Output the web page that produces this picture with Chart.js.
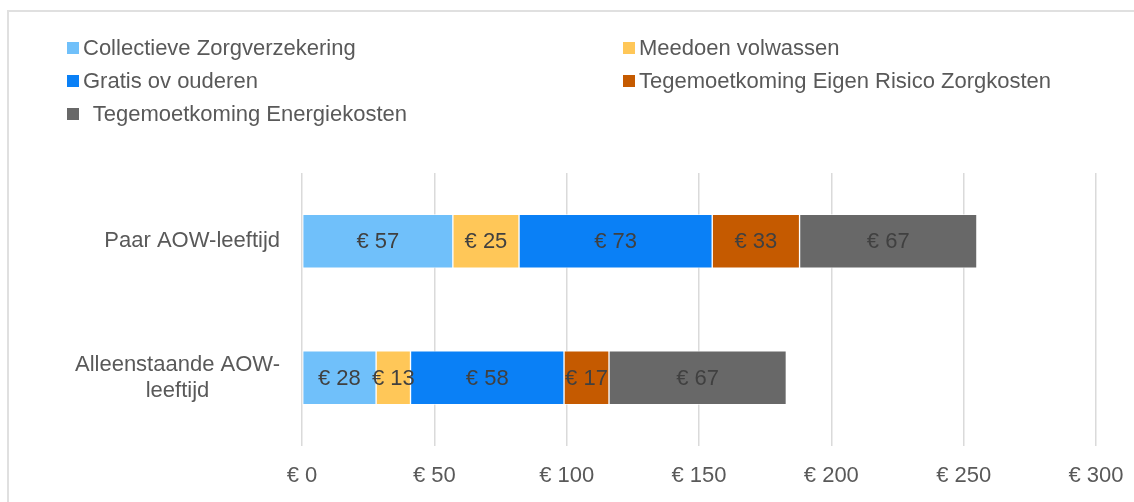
<!DOCTYPE html>
<html>
<head>
<meta charset="utf-8">
<script src="https://cdn.jsdelivr.net/npm/chart.js@4"></script>
<style>
  html, body { margin: 0; padding: 0; background: #fff; }
  #wrap { position: relative; width: 1134px; height: 502px; overflow: hidden; font-family: "Liberation Sans", Arial, sans-serif; }
  #frame { position: absolute; left: 7px; top: 10px; width: 1200px; height: 600px; border-top: 2px solid #e0e0e0; border-left: 2px solid #e0e0e0; }
  #legend { position: absolute; left: 0; top: 0; }
  .item { position: absolute; font-size: 22px; color: #595959; white-space: pre; line-height: 26px; }
  .item span.box { position: absolute; width: 12px; height: 12px; top: 7px; }
  canvas { position: absolute; left: 0; top: 0; }
</style>
</head>
<body>
<div id="wrap">
  <div id="frame"></div>
  <canvas id="chart" width="1134" height="502"></canvas>
  <div id="legend"></div>
</div>
<script>
const categories = ["Paar AOW-leeftijd", ["Alleenstaande AOW-", "leeftijd"]];
const seriesNames = [
  "Collectieve Zorgverzekering",
  "Meedoen volwassen",
  "Gratis ov ouderen",
  "Tegemoetkoming Eigen Risico Zorgkosten",
  " Tegemoetkoming Energiekosten"
];
const collectieve = [57, 28];
const meedoen = [25, 13];
const gratisOv = [73, 58];
const eigenRisico = [33, 17];
const energie = [67, 67];
const seriesColors = ["#70C0FA", "#FFC758", "#0A80F6", "#C55A00", "#686868"];
const xTicks = [0, 50, 100, 150, 200, 250, 300];

const FONT = '"Liberation Sans", Arial, sans-serif';

// legend in two columns, like the original ([text x, top, box offset])
const legendSpots = [[83, 35, -16], [639, 35, -16], [83, 68, -16], [639, 68, -16], [87, 101, -20]];
const legend = document.getElementById("legend");
seriesNames.forEach((name, i) => {
  const el = document.createElement("div");
  el.className = "item";
  el.style.left = legendSpots[i][0] + "px";
  el.style.top = legendSpots[i][1] + "px";
  const box = document.createElement("span");
  box.className = "box";
  box.style.left = legendSpots[i][2] + "px";
  box.style.background = seriesColors[i];
  el.appendChild(box);
  el.appendChild(document.createTextNode(name));
  legend.appendChild(el);
});

const values = [collectieve, meedoen, gratisOv, eigenRisico, energie];

const labelPlugin = {
  id: "labels",
  afterDraw(chart) {
    const ctx = chart.ctx;
    ctx.save();
    ctx.font = "22px " + FONT;
    ctx.textBaseline = "middle";

    // category labels: right edge at fixed x, lines centred within the label
    const yScale = chart.scales.y;
    const right = chart.chartArea.left - 22;
    categories.forEach((cat, i) => {
      const lines = Array.isArray(cat) ? cat : [cat];
      const w = Math.max(...lines.map((l) => ctx.measureText(l).width));
      const cx = right - w / 2;
      const cy = yScale.getPixelForValue(i);
      const lh = 26;
      ctx.fillStyle = "#595959";
      ctx.textAlign = "center";
      lines.forEach((l, k) => {
        ctx.fillText(l, cx, cy + (k - (lines.length - 1) / 2) * lh);
      });
    });

    // value labels in the middle of each segment
    ctx.fillStyle = "#404040";
    ctx.textAlign = "center";
    chart.data.datasets.forEach((ds, i) => {
      const meta = chart.getDatasetMeta(i);
      meta.data.forEach((bar, j) => {
        const p = bar.getProps(["x", "y", "base"], true);
        ctx.fillText("€ " + ds.data[j], (p.x + p.base) / 2, p.y + 1);
      });
    });
    ctx.restore();
  }
};

new Chart(document.getElementById("chart"), {
  type: "bar",
  data: {
    labels: categories,
    datasets: seriesNames.map((name, i) => ({
      label: name,
      data: values[i],
      backgroundColor: seriesColors[i],
      borderColor: "rgba(255,255,255,0.6)",
      borderWidth: 1,
      borderSkipped: false,
      barThickness: 54
    }))
  },
  options: {
    indexAxis: "y",
    responsive: false,
    animation: false,
    devicePixelRatio: 1,
    layout: { padding: { top: 173, right: 38, left: 0, bottom: 0 } },
    plugins: {
      legend: { display: false },
      tooltip: { enabled: false }
    },
    scales: {
      x: {
        stacked: true,
        min: 0,
        max: 300,
        afterBuildTicks(scale) {
          scale.ticks = xTicks.map((v) => ({ value: v }));
        },
        afterFit(scale) {
          scale.height = 56;
          scale.paddingLeft = 0;
          scale.paddingRight = 0;
        },
        grid: { color: "#dadada", lineWidth: 1.5, drawTicks: false },
        border: { display: false },
        ticks: {
          padding: 17,
          color: "#595959",
          font: { family: FONT, size: 22 },
          callback: (v) => "€ " + v
        }
      },
      y: {
        stacked: true,
        afterFit(scale) { scale.width = 302; },
        grid: { display: false },
        border: { display: false },
        ticks: { display: false }
      }
    }
  },
  plugins: [labelPlugin]
});
</script>
</body>
</html>
